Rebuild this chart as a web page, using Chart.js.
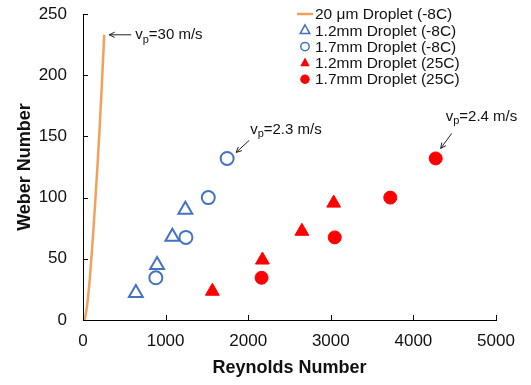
<!DOCTYPE html>
<html>
<head>
<meta charset="utf-8">
<script src="https://cdn.jsdelivr.net/npm/chart.js@4.4.1/dist/chart.umd.min.js"></script>
<style>
html,body{margin:0;padding:0;background:#fff;}
#wrap{width:531px;height:385px;position:relative;}
</style>
</head>
<body>
<div id="wrap"><canvas id="c" width="531" height="385"></canvas></div>
<script>
// ---- data ----
const xTicks = [0, 1000, 2000, 3000, 4000, 5000];
const yTicks = [0, 50, 100, 150, 200, 250];

const seriesNames = ['20 \u03bcm Droplet (-8C)', '1.2mm Droplet (-8C)', '1.7mm Droplet (-8C)', '1.2mm Droplet (25C)', '1.7mm Droplet (25C)'];

const dropRe = [20, 50, 80, 110, 140, 170, 200, 230, 257];
const dropWe = [0, 12, 32, 58, 88, 120, 155, 195, 233];

const tri12ColdRe = [640, 897, 1082, 1239];
const tri12ColdWe = [22, 45, 68, 90];

const cir17ColdRe = [882, 1246, 1517, 1745];
const cir17ColdWe = [34.5, 67.5, 100, 132];

const tri12WarmRe = [1566, 2172, 2650, 3035];
const tri12WarmWe = [23.5, 49, 72.5, 95.5];

const cir17WarmRe = [2162, 3048, 3720, 4270];
const cir17WarmWe = [34.5, 67.5, 100, 132];

const annotations = [
  {series: 0, value: '30 m/s'},
  {series: 2, value: '2.3 m/s'},
  {series: 4, value: '2.4 m/s'}
];

function pts(xs, ys) { return xs.map((x, i) => ({x: x, y: ys[i]})); }

const ORANGE = '#F2A05A', BLUE = '#4472C4', RED = '#FF0000';
const FONT = '"Liberation Sans", Arial, sans-serif';

const datasets = [
  {label: seriesNames[0], data: pts(dropRe, dropWe), showLine: true, borderColor: ORANGE, backgroundColor: ORANGE,
   borderWidth: 2.5, pointRadius: 0, cubicInterpolationMode: 'monotone', _legend: 'line'},
  {label: seriesNames[1], data: pts(tri12ColdRe, tri12ColdWe), pointStyle: 'triangle', pointRadius: 8,
   borderColor: BLUE, backgroundColor: 'rgba(255,255,255,0)', borderWidth: 2, _legend: 'triangle', _fill: false},
  {label: seriesNames[2], data: pts(cir17ColdRe, cir17ColdWe), pointStyle: 'circle', pointRadius: 6.5,
   borderColor: BLUE, backgroundColor: 'rgba(255,255,255,0)', borderWidth: 2, _legend: 'circle', _fill: false},
  {label: seriesNames[3], data: pts(tri12WarmRe, tri12WarmWe), pointStyle: 'triangle', pointRadius: 8,
   borderColor: RED, backgroundColor: RED, borderWidth: 1, _legend: 'triangle', _fill: true},
  {label: seriesNames[4], data: pts(cir17WarmRe, cir17WarmWe), pointStyle: 'circle', pointRadius: 6.5,
   borderColor: RED, backgroundColor: RED, borderWidth: 1, _legend: 'circle', _fill: true}
];

const extras = {
  id: 'extras',
  afterDraw(chart) {
    const ctx = chart.ctx, xs = chart.scales.x, ys = chart.scales.y, a = chart.chartArea;
    ctx.save();
    // inward tick marks
    ctx.strokeStyle = '#000'; ctx.lineWidth = 1;
    ctx.beginPath();
    xTicks.forEach(v => { const p = Math.round(xs.getPixelForValue(v)) + 0.5; ctx.moveTo(p, a.bottom); ctx.lineTo(p, a.bottom - 5); });
    yTicks.forEach(v => { const p = Math.round(ys.getPixelForValue(v)) + 0.5; ctx.moveTo(a.left, p); ctx.lineTo(a.left + 5, p); });
    ctx.stroke();

    // legend
    const lx = 305, ly0 = 14, dy = 16.3;
    ctx.font = '15.5px ' + FONT; ctx.fillStyle = '#111'; ctx.textBaseline = 'middle'; ctx.textAlign = 'left';
    chart.data.datasets.forEach((ds, i) => {
      const y = ly0 + i * dy;
      ctx.save();
      if (ds._legend === 'line') {
        ctx.strokeStyle = ds.borderColor; ctx.lineWidth = 2.5;
        ctx.beginPath(); ctx.moveTo(lx - 8, y); ctx.lineTo(lx + 8, y); ctx.stroke();
      } else if (ds._legend === 'triangle') {
        const r = 5.5;
        ctx.beginPath();
        ctx.moveTo(lx, y - r); ctx.lineTo(lx + r * 0.866, y + r * 0.5 + 0.5); ctx.lineTo(lx - r * 0.866, y + r * 0.5 + 0.5); ctx.closePath();
        if (ds._fill) { ctx.fillStyle = ds.backgroundColor; ctx.fill(); }
        else { ctx.strokeStyle = ds.borderColor; ctx.lineWidth = 1.5; ctx.stroke(); }
      } else {
        ctx.beginPath(); ctx.arc(lx, y, ds._fill ? 4.7 : 4.2, 0, Math.PI * 2);
        if (ds._fill) { ctx.fillStyle = ds.backgroundColor; ctx.fill(); }
        else { ctx.strokeStyle = ds.borderColor; ctx.lineWidth = 1.5; ctx.stroke(); }
      }
      ctx.restore();
      ctx.fillText(ds.label, lx + 10, y + 1);
    });

    // velocity annotations with arrows
    const layouts = [
      {tx: 31, ty: 0, ax0: 27, ay0: 0, ax1: 5, ay1: 0},
      {tx: 23, ty: -29, ax0: 22, ay0: -18, ax1: 9, ay1: -6},
      {tx: 10, ty: -42, ax0: 16, ay0: -25, ax1: 5, ay1: -10}
    ];
    annotations.forEach((an, k) => {
      const d = chart.data.datasets[an.series].data;
      const last = d[d.length - 1];
      const px = xs.getPixelForValue(last.x), py = ys.getPixelForValue(last.y);
      const L = layouts[k];
      const x0 = px + L.ax0, y0 = py + L.ay0, x1 = px + L.ax1, y1 = py + L.ay1;
      ctx.strokeStyle = '#222'; ctx.lineWidth = 1;
      ctx.beginPath(); ctx.moveTo(x0, y0); ctx.lineTo(x1, y1); ctx.stroke();
      const ang = Math.atan2(y1 - y0, x1 - x0), h = 6;
      ctx.beginPath();
      ctx.moveTo(x1 - h * Math.cos(ang - 0.45), y1 - h * Math.sin(ang - 0.45));
      ctx.lineTo(x1, y1);
      ctx.lineTo(x1 - h * Math.cos(ang + 0.45), y1 - h * Math.sin(ang + 0.45));
      ctx.stroke();
      let tx = px + L.tx; const ty = py + L.ty;
      ctx.fillStyle = '#111'; ctx.textAlign = 'left'; ctx.textBaseline = 'middle';
      ctx.font = '15px ' + FONT;
      ctx.fillText('v', tx, ty); tx += ctx.measureText('v').width;
      ctx.font = '11px ' + FONT;
      ctx.fillText('p', tx, ty + 5); tx += ctx.measureText('p').width;
      ctx.font = '15px ' + FONT;
      ctx.fillText('=' + an.value, tx, ty);
    });
    ctx.restore();
  }
};

new Chart(document.getElementById('c'), {
  type: 'scatter',
  data: {datasets: datasets},
  options: {
    responsive: false,
    animation: false,
    devicePixelRatio: 1,
    layout: {padding: {top: 14, right: 35, left: 0, bottom: 0}},
    plugins: {legend: {display: false}, tooltip: {enabled: false}},
    scales: {
      x: {
        type: 'linear', min: 0, max: 5000,
        afterBuildTicks: s => { s.ticks = xTicks.map(v => ({value: v})); },
        grid: {display: false, drawTicks: false},
        border: {display: true, color: '#000', width: 1},
        ticks: {color: '#111', font: {family: FONT, size: 17}, padding: 11, maxRotation: 0, callback: v => String(v)},
        title: {display: true, text: 'Reynolds Number', color: '#111', font: {family: FONT, size: 18, weight: 'bold'}, padding: {top: 0, bottom: 6}},
        afterFit: s => { s.height = 65; s.paddingLeft = 0; s.paddingRight = 0; }
      },
      y: {
        type: 'linear', min: 0, max: 250,
        afterBuildTicks: s => { s.ticks = yTicks.map(v => ({value: v})); },
        grid: {display: false, drawTicks: false},
        border: {display: true, color: '#000', width: 1},
        ticks: {color: '#111', font: {family: FONT, size: 17}, padding: 16, callback: v => String(v)},
        title: {display: true, text: 'Weber Number', color: '#111', font: {family: FONT, size: 18, weight: 'bold'}, padding: {top: 14, bottom: 0}},
        afterFit: s => { s.width = 83; s.paddingTop = 0; s.paddingBottom = 0; }
      }
    }
  },
  plugins: [extras]
});
</script>
</body>
</html>
